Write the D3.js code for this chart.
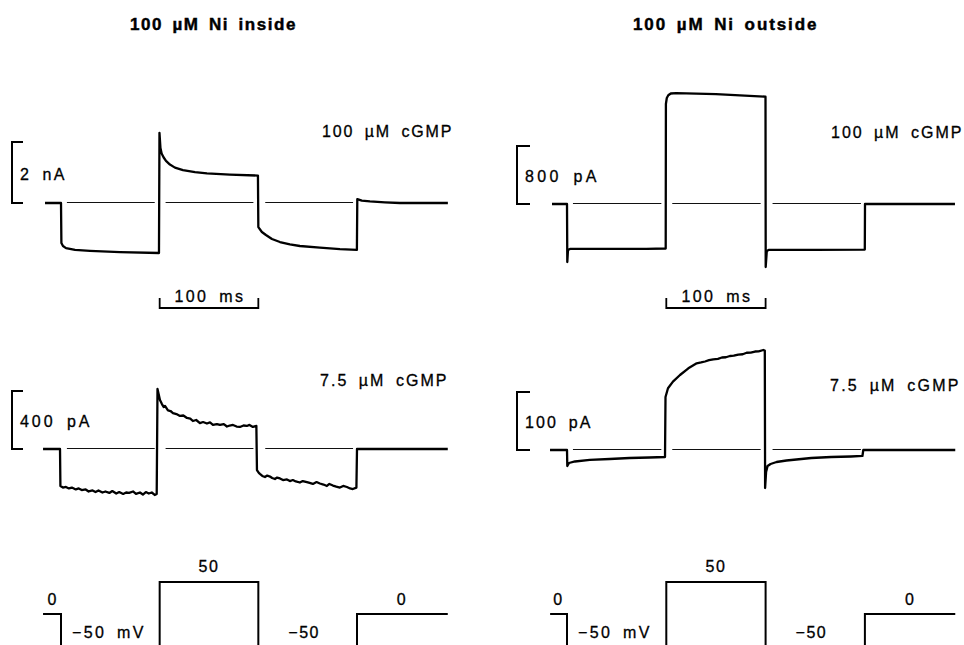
<!DOCTYPE html>
<html><head><meta charset="utf-8">
<script src="https://cdn.jsdelivr.net/npm/d3@7"></script>
<style>
body{margin:0;background:#fff}
svg{display:block}
text{font-family:"Liberation Sans",Arial,Helvetica,sans-serif;fill:#000;stroke:#000;stroke-width:0.3px;font-size:16px;word-spacing:4px;letter-spacing:0.5px}
text.title{font-weight:bold;font-size:17px;stroke-width:0.45px;word-spacing:3px}
text.tight{letter-spacing:1.5px}
</style></head>
<body><svg id="c" width="964" height="645"></svg>
<script>
// ---------------- data ----------------
const titles = ["100 \u00b5M Ni inside", "100 \u00b5M Ni outside"];
const concLabels = ["100 \u00b5M cGMP", "7.5 \u00b5M cGMP"];
const currentScaleValues = [2, 800, 400, 100];
const currentScaleUnits = ["nA", "pA", "pA", "pA"];
const timeBarMs = 100;
const stepTimes = [0, 100, 200, 300];          // ms
const voltageSteps = [[-18, 0], [0, -50], [100, 50], [200, -50], [300, 0], [392, 0]]; // [ms, mV]
const voltageLabels = ["0", "\u221250 mV", "50", "\u221250", "0"];
const baselineSegments = [[6, 95], [106, 195], [207, 296]]; // ms

// traces: [time ms, current]
const inside100 = [ // nA
  [-16.2,0],[0,0],[0.4,-1.31],[2,-1.41],[5.1,-1.48],[14.2,-1.54],[29.4,-1.57],[59.8,-1.61],[99.3,-1.64],
  [99.8,2.30],[100.8,1.80],[102,1.62],[103.9,1.50],[106.4,1.38],[110.4,1.26],[115.5,1.16],[123.6,1.08],[135.8,1.01],[147.9,0.97],[171.2,0.93],[199.6,0.90],
  [200,-0.79],[203.6,-0.95],[207.7,-1.05],[213.8,-1.18],[221.9,-1.28],[232,-1.36],[242.1,-1.41],[262.4,-1.46],[282.7,-1.51],[299.9,-1.54],
  [300.3,0.13],[304.9,0.08],[313.1,0.05],[328.3,0.02],[343.5,0],[392.1,0]
];
const outside100 = [ // pA
  [-15.1,0],[0,0],[0.3,-800],[1,-634],[3,-620],[40,-620],[80,-618],[99.4,-614],
  [99.6,1379],[100.5,1462],[102,1500],[104.5,1524],[110,1530],[150,1515],[199.9,1480],
  [200.1,-869],[201.2,-648],[203,-634],[250,-634],[299.9,-628],
  [300.1,0],[390.7,0]
];
const inside7_5 = [ // pA
  [-18.2,0],[-1,0],
  [-0.6,-255],[2,-266],[5,-262],[8,-272],[11,-266],[15,-279],[18,-272],[21,-283],[25,-279],[28,-293],[32,-286],[35,-297],
  [38,-286],[42,-300],[45,-293],[49,-303],[52,-290],[56,-307],[59,-297],[63,-310],[66,-300],[69,-303],[73,-293],[76,-310],
  [80,-300],[83,-314],[86,-297],[89,-307],[92,-300],[95,-317],[97,-310],
  [97.8,414],[100.3,338],[102.3,310],[104,290],[105.4,297],[108.4,266],[111,262],[113.5,248],[117,241],[120.6,228],[124,231],[127.7,214],
  [131,210],[133.7,193],[137,200],[140.8,179],[144,186],[147.9,176],[151,183],[154,166],[158,172],[161.1,166],[165,172],[168.2,155],
  [171,162],[174.3,166],[178,155],[181.4,152],[185,162],[188.4,159],[191,166],[194.5,152],[198,159],
  [198.6,-145],[200.5,-165],[201.6,-172],[204,-186],[206.7,-193],[209,-183],[211.8,-190],[214,-200],[216.8,-207],[219,-197],[221.9,-203],
  [225,-214],[229,-210],[232,-221],[235,-214],[238,-224],[242.1,-231],[245,-221],[249.2,-228],[252,-234],[255.3,-241],[259,-228],
  [262.4,-238],[266,-245],[269.5,-255],[272,-241],[275.6,-252],[279,-259],[282.7,-266],[286,-255],[289.8,-262],[293,-272],[295.8,-276],[299.4,-266],
  [300,0],[392,0]
];
const outside7_5 = [ // pA
  [-17.1,0],[0,0],[0.3,-27.6],[2,-22.4],[8,-19.8],[23,-17.2],[43,-15.5],[63,-13.8],[83,-12.9],[98.7,-12.1],
  [99.2,91.4],[101.7,106.4],[106.7,117.8],[113.8,129.3],[122.2,140.9],[130.6,149.5],[135,150.9],[139,152.6],[143,154.8],[147.3,156.4],[152,157.1],[156,159.5],
  [160,159.9],[164.1,162.1],[168,162.6],[172.5,164.6],[177,165.1],[180.9,167.7],[185,167.9],[189.3,169.8],[193,170.2],[197.7,172.4],[199.2,171.5],
  [199.5,-65.5],[200.5,-37.9],[202,-27.6],[205,-24.1],[211,-20.7],[221,-18.1],[231,-16.4],[246,-13.8],[266,-12.1],[286,-11.2],[297.5,-10.3],
  [298.4,0],[391,0]
];

// ---------------- layout ----------------
const svg = d3.select("#c");
function label(x, y, str, w, anchor, cls) {
  const t = svg.append("text").attr("x", x).attr("y", y).attr("text-anchor", anchor || "start").text(str);
  if (cls) t.attr("class", cls);
  if (w) t.attr("textLength", w).attr("lengthAdjust", "spacing");
  return t;
}
const columns = [
  {xr:[61,357], title:{x:130,w:166}, barX:12, barTick:11, vStart:-18.2, vEnd:392},
  {xr:[567,864.9], title:{x:633,w:184}, barX:517, barTick:13, vStart:-17, vEnd:391}
];
const panels = [
  {col:0, data:inside100, sv:0, yr:[203,142], conc:0, cx:322, cy:137, cw:130, labelW:45},
  {col:1, data:outside100, sv:1, yr:[204,146], conc:0, cx:831, cy:138, cw:131, labelW:72},
  {col:0, data:inside7_5, sv:2, yr:[449,391], conc:1, cx:320, cy:386, cw:127, labelW:70},
  {col:1, data:outside7_5, sv:3, yr:[450,392], conc:1, cx:830, cy:391, cw:129, labelW:66}
];

columns.forEach((c, i) => {
  c.x = d3.scaleLinear().domain([0, 300]).range(c.xr);
  label(c.title.x, 30, titles[i], c.title.w, "start", "title");
});

panels.forEach(p => {
  const c = columns[p.col];
  const x = c.x;
  const y = d3.scaleLinear().domain([0, currentScaleValues[p.sv]]).range(p.yr);
  // thin zero reference
  baselineSegments.forEach(s => {
    svg.append("line").attr("x1", x(s[0])).attr("x2", x(s[1]))
      .attr("y1", Math.round(y(0)) - 0.5).attr("y2", Math.round(y(0)) - 0.5)
      .attr("stroke", "#111").attr("stroke-width", 1);
  });
  // trace
  svg.append("path").datum(p.data)
    .attr("d", d3.line().x(d => x(d[0])).y(d => y(d[1])))
    .attr("fill", "none").attr("stroke", "#000").attr("stroke-width", 2.3)
    .attr("stroke-linejoin", "round");
  // current scale bracket
  const bx = c.barX, bt = c.barTick;
  const y0 = y(0), y1 = y(currentScaleValues[p.sv]);
  svg.append("path")
    .attr("d", `M${bx+bt},${y1}H${bx}V${y0}H${bx+bt}`)
    .attr("fill", "none").attr("stroke", "#000").attr("stroke-width", 2);
  label(bx + 8, (y0 + y1) / 2 + 7, currentScaleValues[p.sv] + " " + currentScaleUnits[p.sv], p.labelW);
  // concentration label
  label(p.cx, p.cy, concLabels[p.conc], p.cw);
});

// time scale bars
columns.forEach(c => {
  const x = c.x, yb = 308;
  svg.append("path")
    .attr("d", `M${x(stepTimes[1])},${yb-10}V${yb}H${x(stepTimes[1]+timeBarMs)}V${yb-10}`)
    .attr("fill", "none").attr("stroke", "#000").attr("stroke-width", 1.8);
  label(x(stepTimes[1] + timeBarMs/2), 302, timeBarMs + " ms", 69, "middle");
});

// voltage protocol
columns.forEach(c => {
  const x = c.x;
  const v = d3.scaleLinear().domain([0, 50]).range([614, 582]);
  const pts = [];
  voltageSteps.forEach((s, i) => {
    const t = i === 0 ? c.vStart : (i === voltageSteps.length - 1 ? c.vEnd : s[0]);
    if (i > 0 && i < voltageSteps.length - 1) pts.push([t, voltageSteps[i-1][1]]);
    pts.push([t, s[1]]);
  });
  svg.append("path").datum(pts)
    .attr("d", d3.line().x(d => x(d[0])).y(d => v(d[1])))
    .attr("fill", "none").attr("stroke", "#000").attr("stroke-width", 2);
  label(x(-9), v(0) - 9, voltageLabels[0], null, "middle");
  label(x(0) + 11, 638, voltageLabels[1], 72);
  label(x(150), v(50) - 10, voltageLabels[2], null, "middle", "tight");
  label(x(200) + 30, 638, voltageLabels[3], null, "start", "tight");
  label(x(345), v(0) - 9, voltageLabels[4], null, "middle");
});
</script>
</body></html>
